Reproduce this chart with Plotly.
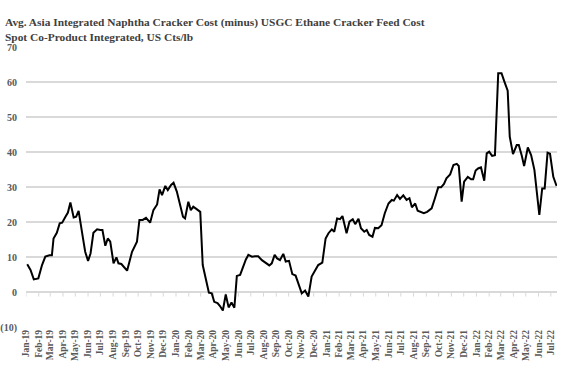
import plotly.graph_objects as go
import pandas as pd

dates = [
    "2019-01-04", "2019-01-12", "2019-01-20", "2019-01-31", "2019-02-09", "2019-02-17", "2019-02-27",
    "2019-03-05", "2019-03-09", "2019-03-17", "2019-03-24", "2019-03-30", "2019-04-07", "2019-04-13",
    "2019-04-19", "2019-04-27", "2019-05-03", "2019-05-09", "2019-05-19", "2019-05-25", "2019-06-01",
    "2019-06-07", "2019-06-14", "2019-06-23", "2019-07-01", "2019-07-06", "2019-07-13", "2019-07-19",
    "2019-07-25", "2019-08-02", "2019-08-09", "2019-08-14", "2019-08-21", "2019-08-27", "2019-09-04",
    "2019-09-16", "2019-09-22", "2019-09-28", "2019-10-04", "2019-10-12", "2019-10-20", "2019-10-30",
    "2019-11-07", "2019-11-16", "2019-11-22", "2019-11-28", "2019-12-06", "2019-12-12", "2019-12-20",
    "2019-12-26", "2020-01-03", "2020-01-09", "2020-01-18", "2020-01-23", "2020-01-31", "2020-02-06",
    "2020-02-12", "2020-02-21", "2020-02-29", "2020-03-06", "2020-03-14", "2020-03-21", "2020-03-28",
    "2020-04-03", "2020-04-11", "2020-04-17", "2020-04-24", "2020-05-01", "2020-05-08", "2020-05-15",
    "2020-05-22", "2020-05-28", "2020-06-05", "2020-06-13", "2020-06-19", "2020-06-25", "2020-07-04",
    "2020-07-11", "2020-07-19", "2020-07-28", "2020-08-07", "2020-08-15", "2020-08-21", "2020-08-28",
    "2020-09-03", "2020-09-10", "2020-09-18", "2020-09-24", "2020-10-02", "2020-10-10", "2020-10-18",
    "2020-10-26", "2020-11-02", "2020-11-10", "2020-11-18", "2020-11-26", "2020-12-04", "2020-12-12",
    "2020-12-22", "2020-12-30", "2021-01-06", "2021-01-14", "2021-01-20", "2021-01-27", "2021-02-03",
    "2021-02-09", "2021-02-19", "2021-02-26", "2021-03-06", "2021-03-12", "2021-03-20", "2021-03-26",
    "2021-04-03", "2021-04-09", "2021-04-15", "2021-04-23", "2021-04-29", "2021-05-07", "2021-05-15",
    "2021-05-23", "2021-06-01", "2021-06-09", "2021-06-14", "2021-06-22", "2021-06-29", "2021-07-07",
    "2021-07-15", "2021-07-22", "2021-07-28", "2021-08-05", "2021-08-11", "2021-08-18", "2021-08-26",
    "2021-09-03", "2021-09-14", "2021-09-22", "2021-09-30", "2021-10-07", "2021-10-14", "2021-10-20",
    "2021-10-29", "2021-11-06", "2021-11-14", "2021-11-19", "2021-11-26", "2021-12-02", "2021-12-11",
    "2021-12-19", "2021-12-24", "2021-12-30", "2022-01-05", "2022-01-12", "2022-01-20", "2022-01-26",
    "2022-02-01", "2022-02-08", "2022-02-15", "2022-02-23", "2022-03-03", "2022-03-10", "2022-03-18",
    "2022-03-23", "2022-03-31", "2022-04-09", "2022-04-14", "2022-04-21", "2022-04-27", "2022-05-06",
    "2022-05-14", "2022-05-22", "2022-05-28", "2022-06-03", "2022-06-10", "2022-06-16", "2022-06-23",
    "2022-06-29", "2022-07-07", "2022-07-15",
]

spread = [
    7.9, 6.3, 3.6, 3.9, 7.7, 10.1, 10.5,
    10.5, 15.3, 16.9, 19.6, 19.8, 21.5, 22.7,
    25.6, 21.3, 21.5, 23.2, 15.8, 11.5, 8.9,
    11.0, 16.9, 17.9, 17.7, 17.7, 13.2, 15.3,
    14.4, 8.2, 9.9, 8.2, 8.0, 7.2, 6.1,
    11.5, 13.1, 14.4, 20.6, 20.6, 21.2, 19.8,
    23.4, 25.0, 29.3, 27.7, 30.3, 29.1, 30.6,
    31.2, 28.7, 25.8, 21.5, 21.0, 25.8, 23.4,
    24.4, 23.6, 22.9, 7.7, 3.4, -0.2, -0.4,
    -2.8, -3.2, -4.0, -5.3, -0.7, -4.4, -3.0,
    -4.5, 4.6, 4.9, 7.7, 9.3, 10.6, 10.1,
    10.2, 10.2, 9.1, 8.4, 7.6, 8.2, 10.6,
    9.6, 9.1, 10.9, 8.7, 8.9, 5.1, 4.7,
    1.7, -0.4, 0.4, -1.3, 4.4, 6.1, 7.7,
    8.4, 15.3, 16.8, 17.9, 17.2, 21.0, 20.8,
    21.7, 16.8, 20.1, 20.8, 19.4, 20.9, 18.2,
    17.2, 17.7, 16.3, 15.8, 18.3, 18.2, 19.1,
    22.5, 25.3, 26.3, 26.1, 27.7, 26.6, 27.6,
    26.3, 26.8, 24.2, 25.3, 23.2, 22.9, 22.5,
    22.9, 23.9, 26.8, 29.9, 29.9, 30.9, 32.5,
    33.6, 36.3, 36.6, 36.0, 25.8, 31.5, 32.9,
    32.2, 32.2, 34.7, 35.3, 35.6, 31.8, 39.6,
    40.1, 38.9, 39.1, 62.5, 62.5, 60.1, 57.5,
    44.4, 39.4, 42.0, 42.0, 39.1, 36.0, 41.3,
    39.1, 34.9, 28.5, 22.0, 29.6, 29.6, 39.8,
    39.5, 32.9, 30.3,
]

y_ticks = [-10, 0, 10, 20, 30, 40, 50, 60, 70]
y_tick_text = ["(10)", "0", "10", "20", "30", "40", "50", "60", "70"]

x_range = ["2019-01-01", "2022-07-16"]
month_starts = pd.date_range("2019-01-01", "2022-07-01", freq="MS")

title_text = ("Avg. Asia Integrated Naphtha Cracker Cost (minus) USGC Ethane Cracker Feed Cost<br>"
              "Spot Co-Product Integrated, US Cts/lb")

FONT = "Liberation Serif"
GRID = "#d9d9d9"

fig = go.Figure()
# small downward tick marks on the zero line at each month start
tick_x, tick_y = [], []
for m in month_starts:
    tick_x += [m, m, None]
    tick_y += [0, -1.3, None]
fig.add_trace(go.Scatter(x=tick_x, y=tick_y, mode="lines", line=dict(color=GRID, width=1),
                         hoverinfo="skip", showlegend=False))
fig.add_trace(go.Scatter(x=dates, y=spread, mode="lines",
                         line=dict(color="black", width=2), showlegend=False))

fig.add_annotation(text=title_text, xref="paper", yref="paper", x=0, y=1,
                   xanchor="left", yanchor="bottom", xshift=-23, yshift=2,
                   align="left", showarrow=False,
                   font=dict(family=FONT, size=11.4, color="#404040", weight="bold"))

fig.update_layout(
    width=570, height=384,
    paper_bgcolor="white", plot_bgcolor="white",
    margin=dict(l=26, r=13, t=47, b=57, autoexpand=False),
    xaxis=dict(type="date", range=x_range, dtick="M1", tick0="2019-01-01",
               tickformat="%b-%y", tickangle=-90, showgrid=False, zeroline=False,
               showline=False, ticks="", automargin=False,
               tickfont=dict(family=FONT, size=9.5, color="#595959", weight="bold")),
    yaxis=dict(range=[-10, 70], tickvals=y_ticks, ticktext=y_tick_text,
               showgrid=True, gridcolor=GRID, gridwidth=1.3, zeroline=False,
               showline=False, ticks="", automargin=False, ticklabelstandoff=8,
               tickfont=dict(family=FONT, size=10, color="#595959", weight="bold")),
)

fig.write_html("out.html", config={"displayModeBar": False, "staticPlot": True},
               post_script="document.body.style.margin='0';document.body.style.padding='0';")
